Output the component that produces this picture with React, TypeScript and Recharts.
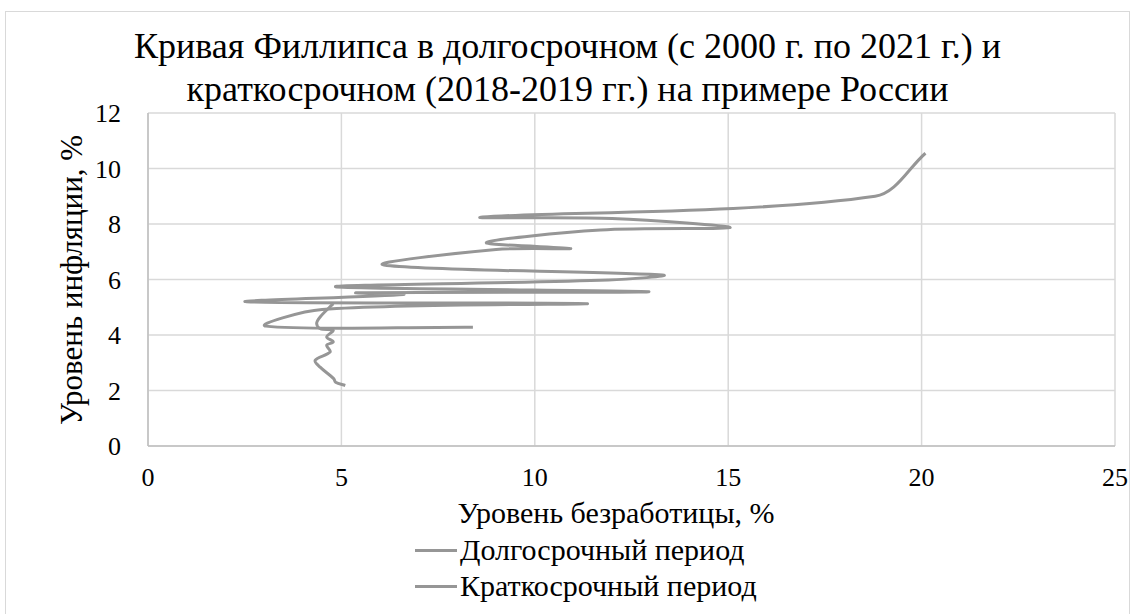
import React from 'react';
import { LineChart, Line, XAxis, YAxis, CartesianGrid, Legend } from 'recharts';

// Long-term series (2000–2021), in the order the points are joined
const longTermX = [20.1, 18.8, 8.65, 12.0, 15.05, 11.7, 8.75, 10.93, 9.0, 6.1, 13.3, 11.9, 4.85, 12.95, 5.4, 6.6, 2.55, 11.35, 4.5, 3.05, 8.4];
const longTermY = [10.55, 9.0, 8.25, 8.2, 7.87, 7.78, 7.33, 7.12, 7.08, 6.52, 6.16, 5.98, 5.74, 5.56, 5.52, 5.46, 5.2, 5.13, 4.92, 4.32, 4.28];

// Short-term series (2018–2019)
const shortTermX = [5.1, 4.85, 4.8, 4.45, 4.32, 4.71, 4.62, 4.79, 4.62, 4.79, 4.45, 4.36, 4.45, 4.79];
const shortTermY = [2.18, 2.3, 2.43, 2.84, 3.09, 3.39, 3.63, 3.75, 3.93, 4.17, 4.23, 4.41, 4.65, 5.13];

const xTicks = [0, 5, 10, 15, 20, 25];
const yTicks = [0, 2, 4, 6, 8, 10, 12];
const seriesNames = ['Долгосрочный период', 'Краткосрочный период'];
const titleLines = [
  'Кривая Филлипса в долгосрочном (с 2000 г. по 2021 г.) и',
  'краткосрочном (2018-2019 гг.) на примере России',
];
const xAxisTitle = 'Уровень безработицы, %';
const yAxisTitle = 'Уровень инфляции, %';

const FONT = '"Liberation Serif", "Times New Roman", serif';
const LINE_COLOR = '#969696';
const GRID_COLOR = '#d9d9d9';

const longData = longTermX.map((x, i) => ({ x, y: longTermY[i] }));
const shortData = shortTermX.map((x, i) => ({ x, y: shortTermY[i] }));

// Excel-like smoothed scatter line (Catmull-Rom with length-proportional tangents)
const excelSmooth = (context: any) => {
  let pts: number[][] = [];
  return {
    areaStart() {},
    areaEnd() {},
    lineStart() {
      pts = [];
    },
    point(x: number, y: number) {
      pts.push([+x, +y]);
    },
    lineEnd() {
      const n = pts.length;
      if (!n) return;
      context.moveTo(pts[0][0], pts[0][1]);
      const dist = (a: number[], b: number[]) => Math.hypot(b[0] - a[0], b[1] - a[1]);
      for (let i = 0; i < n - 1; i++) {
        const p0 = pts[Math.max(0, i - 1)];
        const p1 = pts[i];
        const p2 = pts[i + 1];
        const p3 = pts[Math.min(n - 1, i + 2)];
        const d01 = dist(p0, p1);
        const d12 = dist(p1, p2);
        const d23 = dist(p2, p3);
        const f1 = d01 + d12 > 0 ? d12 / (3 * (d01 + d12)) : 0;
        const f2 = d12 + d23 > 0 ? d12 / (3 * (d12 + d23)) : 0;
        context.bezierCurveTo(
          p1[0] + (p2[0] - p0[0]) * f1,
          p1[1] + (p2[1] - p0[1]) * f1,
          p2[0] - (p3[0] - p1[0]) * f2,
          p2[1] - (p3[1] - p1[1]) * f2,
          p2[0],
          p2[1]
        );
      }
    },
  };
};

const renderLegend = (props: any) => {
  const payload = props.payload || [];
  return (
    <div style={{ position: 'relative', width: 1138, height: 80 }}>
      {payload.map((entry: any, i: number) => (
        <div
          key={i}
          style={{
            position: 'absolute',
            left: 415,
            top: i * 36,
            height: 38,
            display: 'flex',
            alignItems: 'center',
            whiteSpace: 'nowrap',
          }}
        >
          <span style={{ display: 'inline-block', width: 42, height: 3, background: LINE_COLOR }} />
          <span style={{ marginLeft: 3, fontFamily: FONT, fontSize: 30, color: '#000', lineHeight: '38px' }}>
            {entry.value}
          </span>
        </div>
      ))}
    </div>
  );
};

export default function App() {
  return (
    <div style={{ position: 'absolute', left: 0, top: 0, width: 1138, height: 614, background: '#fff', overflow: 'hidden' }}>
      <div
        style={{
          position: 'absolute',
          left: 5,
          top: 11,
          width: 1125,
          height: 640,
          border: '1.5px solid #d9d9d9',
          boxSizing: 'border-box',
        }}
      />
      <LineChart width={1138} height={614} margin={{ top: 113, right: 23, left: 0, bottom: 138 }}>
        <CartesianGrid stroke={GRID_COLOR} strokeWidth={1.5} horizontal vertical />
        <XAxis
          type="number"
          dataKey="x"
          domain={[0, 25]}
          ticks={xTicks}
          interval={0}
          height={30}
          tickSize={0}
          tickMargin={22}
          axisLine={{ stroke: '#bfbfbf', strokeWidth: 1.5 }}
          tick={{ fill: '#000', fontSize: 26, fontFamily: FONT }}
        />
        <YAxis
          type="number"
          dataKey="y"
          domain={[0, 12]}
          ticks={yTicks}
          interval={0}
          width={148}
          tickSize={0}
          tickMargin={27}
          axisLine={{ stroke: '#bfbfbf', strokeWidth: 1.5 }}
          tick={{ fill: '#000', fontSize: 26, fontFamily: FONT }}
        />
        <Line
          data={longData}
          dataKey="y"
          name={seriesNames[0]}
          type={excelSmooth as any}
          stroke={LINE_COLOR}
          strokeWidth={3}
          dot={false}
          activeDot={false}
          isAnimationActive={false}
        />
        <Line
          data={shortData}
          dataKey="y"
          name={seriesNames[1]}
          type={excelSmooth as any}
          stroke={LINE_COLOR}
          strokeWidth={3}
          dot={false}
          activeDot={false}
          isAnimationActive={false}
        />
        <Legend
          layout="vertical"
          align="center"
          verticalAlign="middle"
          content={renderLegend}
          wrapperStyle={{ position: 'absolute', top: 531, left: 0, width: 1138 }}
        />
      </LineChart>
      <div
        style={{
          position: 'absolute',
          left: 5,
          top: 25,
          width: 1125,
          textAlign: 'center',
          fontFamily: FONT,
          fontSize: 36,
          lineHeight: '43px',
          color: '#000',
          whiteSpace: 'nowrap',
        }}
      >
        <div>{titleLines[0]}</div>
        <div>{titleLines[1]}</div>
      </div>
      <div
        style={{
          position: 'absolute',
          left: 616,
          top: 513,
          transform: 'translate(-50%, -50%)',
          fontFamily: FONT,
          fontSize: 30,
          lineHeight: 1,
          color: '#000',
          whiteSpace: 'nowrap',
        }}
      >
        {xAxisTitle}
      </div>
      <div
        style={{
          position: 'absolute',
          left: 71,
          top: 280,
          transform: 'translate(-50%, -50%) rotate(-90deg)',
          fontFamily: FONT,
          fontSize: 31,
          lineHeight: 1,
          color: '#000',
          whiteSpace: 'nowrap',
        }}
      >
        {yAxisTitle}
      </div>
    </div>
  );
}
